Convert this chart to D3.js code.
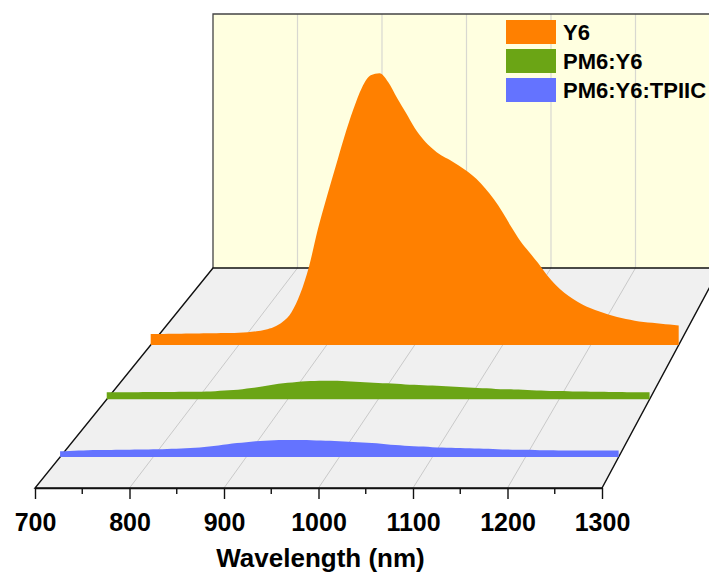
<!DOCTYPE html>
<html>
<head>
<meta charset="utf-8">
<script src="https://cdn.jsdelivr.net/npm/d3@7"></script>
<style>
  body { margin: 0; background: #fff; }
  svg { display: block; font-family: Arial, "Liberation Sans", sans-serif; }
</style>
</head>
<body>
<svg></svg>
<script>
const width = 709
const height = 572

// data
const seriesNames = ['Y6', 'PM6:Y6', 'PM6:Y6:TPIIC']
const seriesColors = ['#ff8000', '#6ba515', '#6473ff']
const wavelengths = d3.range(700, 1301, 10)
const majorTicks = [700, 800, 900, 1000, 1100, 1200, 1300]
const minorTicks = [750, 850, 950, 1050, 1150, 1250]

// normalised PL intensity, one value per wavelength
const y6 = [
    0.040, 0.040, 0.041, 0.041, 0.042, 0.042, 0.043, 0.043, 0.044, 0.044,
    0.045, 0.047, 0.050, 0.056, 0.066, 0.085, 0.120, 0.188, 0.288, 0.424,
    0.540, 0.650, 0.760, 0.858, 0.940, 0.985, 0.993, 0.960, 0.902, 0.848,
    0.793, 0.750, 0.718, 0.693, 0.676, 0.656, 0.634, 0.607, 0.573, 0.532,
    0.484, 0.430, 0.380, 0.340, 0.300, 0.257, 0.220, 0.191, 0.168, 0.149,
    0.134, 0.122, 0.111, 0.102, 0.095, 0.089, 0.084, 0.081, 0.078, 0.075,
    0.071
]
const pm6y6 = [
    0.025, 0.025, 0.025, 0.025, 0.026, 0.026, 0.026, 0.026, 0.027, 0.027,
    0.027, 0.028, 0.029, 0.031, 0.033, 0.036, 0.040, 0.045, 0.050, 0.055,
    0.059, 0.062, 0.064, 0.065, 0.066, 0.066, 0.065, 0.063, 0.062, 0.060,
    0.058, 0.057, 0.055, 0.053, 0.052, 0.050, 0.049, 0.047, 0.046, 0.044,
    0.042, 0.040, 0.039, 0.037, 0.036, 0.035, 0.034, 0.032, 0.031, 0.030,
    0.030, 0.029, 0.028, 0.028, 0.027, 0.027, 0.026, 0.026, 0.025, 0.025,
    0.025
]
const tpiic = [
    0.020, 0.021, 0.022, 0.023, 0.024, 0.024, 0.025, 0.025, 0.026, 0.026,
    0.027, 0.027, 0.028, 0.029, 0.031, 0.033, 0.036, 0.040, 0.044, 0.048,
    0.051, 0.054, 0.056, 0.058, 0.059, 0.059, 0.059, 0.058, 0.057, 0.056,
    0.054, 0.053, 0.051, 0.049, 0.047, 0.044, 0.041, 0.039, 0.037, 0.036,
    0.034, 0.033, 0.032, 0.031, 0.030, 0.029, 0.028, 0.027, 0.026, 0.025,
    0.025, 0.024, 0.023, 0.023, 0.022, 0.022, 0.022, 0.022, 0.022, 0.022,
    0.022
]
const seriesValues = [y6, pm6y6, tpiic]

// layout: floor corners (front / back edges) and depth of each series plane
const front = { y: 488, x0: 35, x1: 602 }
const back = { y: 268, x0: 213, x1: 720 }
const wallTop = 14
const planeDepth = [0.65, 0.403, 0.141]

const lerp = (a, b, t) => a + (b - a) * t
const planeX = t => d3.scaleLinear()
    .domain([700, 1300])
    .range([lerp(front.x0, back.x0, t), lerp(front.x1, back.x1, t)])
const planeY = t => lerp(front.y, back.y, t)
const planeFactor = t => (lerp(front.x1, back.x1, t) - lerp(front.x0, back.x0, t)) / (front.x1 - front.x0)

const xFront = planeX(0)
const xBack = planeX(1)
const yIntensity = d3.scaleLinear().domain([0, 1]).range([0, 294])

const svg = d3.select('svg')
    .attr('width', width)
    .attr('height', height)

// floor
svg.append('path')
    .attr('d', `M${front.x0},${front.y}L${front.x1},${front.y}L${back.x1},${back.y}L${back.x0},${back.y}Z`)
    .attr('fill', '#f0f0f0')

svg.append('g')
    .selectAll('line')
    .data(majorTicks.slice(1, -1))
    .enter()
    .append('line')
    .attr('x1', d => xFront(d))
    .attr('y1', front.y)
    .attr('x2', d => xBack(d))
    .attr('y2', back.y)
    .attr('stroke', '#c9c9c9')
    .attr('stroke-width', 1)

// back wall
svg.append('rect')
    .attr('x', back.x0)
    .attr('y', wallTop)
    .attr('width', back.x1 - back.x0)
    .attr('height', back.y - wallTop)
    .attr('fill', '#ffffe0')

svg.append('g')
    .selectAll('line')
    .data(majorTicks.slice(1))
    .enter()
    .append('line')
    .attr('x1', d => xBack(d))
    .attr('x2', d => xBack(d))
    .attr('y1', wallTop)
    .attr('y2', back.y)
    .attr('stroke', '#d8d8d0')
    .attr('stroke-width', 1.2)

svg.append('path')
    .attr('d', `M${back.x1},${wallTop}L${back.x0},${wallTop}L${back.x0},${back.y}`)
    .attr('fill', 'none')
    .attr('stroke', '#444')
    .attr('stroke-width', 1.3)

// floor outline
svg.append('path')
    .attr('d', `M${back.x0},${back.y}L${front.x0},${front.y}L${front.x1},${front.y}L${back.x1},${back.y}Z`)
    .attr('fill', 'none')
    .attr('stroke', '#111')
    .attr('stroke-width', 1.4)

// series, back to front
seriesValues.forEach((vals, i) => {
    const t = planeDepth[i]
    const x = planeX(t)
    const y0 = planeY(t)
    const k = planeFactor(t)
    const area = d3.area()
        .x((d, j) => x(wavelengths[j]))
        .y0(y0)
        .y1(d => y0 - yIntensity(d) * k)
        .curve(d3.curveMonotoneX)
    svg.append('path')
        .datum(vals)
        .attr('d', area)
        .attr('fill', seriesColors[i])
})

// x axis
const axis = svg.append('g')
    .attr('transform', `translate(0,${front.y})`)
    .call(d3.axisBottom(xFront)
        .tickValues(majorTicks)
        .tickFormat(d3.format('d'))
        .tickSize(11)
        .tickSizeOuter(0)
        .tickPadding(14))
axis.select('.domain').attr('stroke', '#111').attr('stroke-width', 1.4)
axis.selectAll('.tick line').attr('stroke', '#111').attr('stroke-width', 1.4)
axis.selectAll('.tick text')
    .attr('fill', '#000')
    .style('font-size', '25px')
    .style('font-weight', 'bold')

svg.append('g')
    .attr('transform', `translate(0,${front.y})`)
    .selectAll('line')
    .data(minorTicks)
    .enter()
    .append('line')
    .attr('x1', d => xFront(d))
    .attr('x2', d => xFront(d))
    .attr('y1', 0)
    .attr('y2', 6)
    .attr('stroke', '#111')
    .attr('stroke-width', 1.4)

svg.append('text')
    .attr('x', (front.x0 + front.x1) / 2 + 2)
    .attr('y', 567)
    .attr('text-anchor', 'middle')
    .style('font-size', '26px')
    .style('font-weight', 'bold')
    .text('Wavelength (nm)')

// legend
const legend = svg.append('g')
    .attr('transform', 'translate(506,20)')
    .selectAll('g')
    .data(seriesNames)
    .enter()
    .append('g')
    .attr('transform', (d, i) => `translate(0,${i * 29})`)
legend.append('rect')
    .attr('width', 50)
    .attr('height', 24)
    .attr('fill', (d, i) => seriesColors[i])
legend.append('text')
    .attr('x', 57)
    .attr('y', 20)
    .style('font-size', '22px')
    .style('font-weight', 'bold')
    .text(d => d)
</script>
</body>
</html>
